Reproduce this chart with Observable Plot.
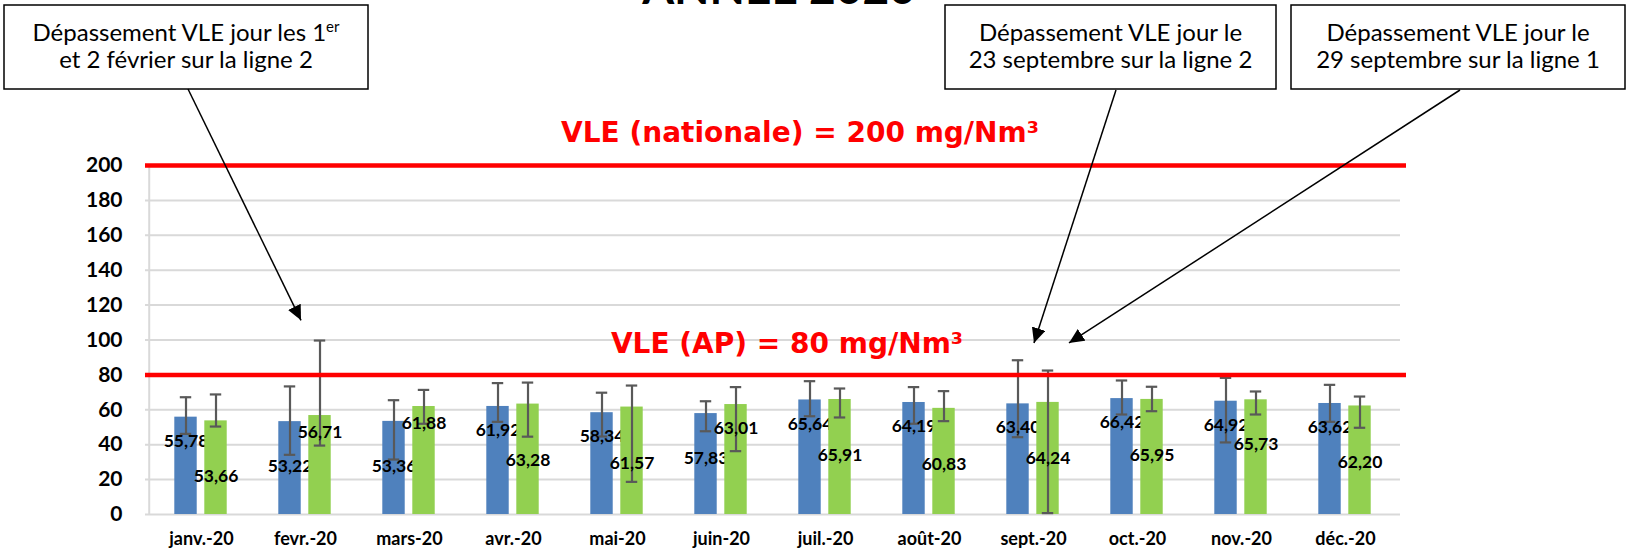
<!DOCTYPE html>
<html>
<head>
<meta charset="utf-8">
<script src="https://cdn.jsdelivr.net/npm/d3@7"></script>
<script src="https://cdn.jsdelivr.net/npm/@observablehq/plot@0.6"></script>
<style>
  html, body { margin: 0; padding: 0; background: #fff; }
  #wrap { position: relative; width: 1629px; height: 557px; overflow: hidden; background: #fff; }
  #wrap svg { position: absolute; left: 0; top: 0; }
  #overlay { pointer-events: none; }
</style>
</head>
<body>
<div id="wrap"></div>
<script>
// ---- Data ----
const months = ["janv.-20","fevr.-20","mars-20","avr.-20","mai-20","juin-20","juil.-20","août-20","sept.-20","oct.-20","nov.-20","déc.-20"];
const ligne1 = [55.78,53.22,53.36,61.92,58.34,57.83,65.64,64.19,63.40,66.42,64.92,63.62];
const ligne2 = [53.66,56.71,61.88,63.28,61.57,63.01,65.91,60.83,64.24,65.95,65.73,62.20];
const ligne1Min = [46.2,34.2,31.5,53.1,44.7,47.7,56.3,52.0,44.3,57.3,41.3,53.1];
const ligne1Max = [67.2,73.4,65.5,75.3,69.8,64.9,76.4,73.0,88.4,76.8,78.3,74.3];
const ligne2Min = [50.4,39.5,52.0,44.6,18.7,36.3,55.6,53.5,0.8,59.2,57.3,49.7];
const ligne2Max = [68.8,99.7,71.4,75.6,73.9,73.0,72.2,70.7,82.5,73.2,70.5,67.6];
// where each data label sits inside its bar: "haut" (top), "A", "B", "C" (lower)
const ligne1Label = ["A","B","B","A","A","B","A","A","A","A","A","A"];
const ligne2Label = ["C","haut","haut","C","C","A","C","C","C","C","B","C"];
const yTicks = [0,20,40,60,80,100,120,140,160,180,200];
const vleNationale = 200;
const vleAP = 80;
const vleTexts = ["VLE (nationale) = 200 mg/Nm³", "VLE (AP) = 80 mg/Nm³"];
const title = "ANNEE 2020";
const callouts = [
  ["Dépassement VLE jour les 1|er", "et 2 février sur la ligne 2"],
  ["Dépassement VLE jour le", "23 septembre sur la ligne 2"],
  ["Dépassement VLE jour le", "29 septembre sur la ligne 1"]
];

// ---- Layout ----
const W = 1629, H = 557, mL = 145, mR = 229, mT = 165, mB = 43;
const bw = (W - mL - mR) / months.length;
const barW = 23;
const off1 = 25.3, off2 = 55.3; // bar start offsets within a month band
const capW = 12;
const dyLevel = {haut: 17, A: 24, B: 45, C: 56};

const rows1 = months.map((m, i) => ({mois: m, valeur: ligne1[i], min: ligne1Min[i], max: ligne1Max[i], place: ligne1Label[i]}));
const rows2 = months.map((m, i) => ({mois: m, valeur: ligne2[i], min: ligne2Min[i], max: ligne2Max[i], place: ligne2Label[i]}));
const fmt = v => v.toFixed(2).replace(".", ",");

function seriesMarks(rows, off, fill) {
  const c = off + barW / 2;
  const dx = c - bw / 2;
  const marks = [
    Plot.barY(rows, {x: "mois", y: "valeur", fill, insetLeft: off, insetRight: bw - off - barW}),
    Plot.ruleX(rows, {x: "mois", y1: "min", y2: "max", dx, stroke: "#595959", strokeWidth: 2.2}),
    Plot.tickY(rows, {x: "mois", y: "min", insetLeft: c - capW / 2, insetRight: bw - c - capW / 2, stroke: "#595959", strokeWidth: 2.2}),
    Plot.tickY(rows, {x: "mois", y: "max", insetLeft: c - capW / 2, insetRight: bw - c - capW / 2, stroke: "#595959", strokeWidth: 2.2})
  ];
  for (const lvl of Object.keys(dyLevel)) {
    marks.push(Plot.text(rows.filter(r => r.place === lvl), {
      x: "mois", y: "valeur", text: d => fmt(d.valeur), dx, dy: dyLevel[lvl],
      fontSize: 17.5, fontWeight: "bold", fill: "#000", fontFamily: "Lato"
    }));
  }
  return marks;
}

const chart = Plot.plot({
  width: W, height: H,
  marginLeft: mL, marginRight: mR, marginTop: mT, marginBottom: mB,
  style: {fontFamily: "Lato", color: "#000", background: "transparent"},
  x: {domain: months, padding: 0, label: null},
  y: {domain: [0, 200], label: null},
  marks: [
    Plot.gridY(yTicks.filter(t => t > 0), {stroke: "#D9D9D9", strokeWidth: 2, strokeOpacity: 1}),
    Plot.ruleX([months[0]], {dx: -bw / 2, stroke: "#D9D9D9", strokeWidth: 2}),
    Plot.ruleY([0], {stroke: "#D9D9D9", strokeWidth: 2}),
    ...seriesMarks(rows1, off1, "#4F81BD"),
    ...seriesMarks(rows2, off2, "#92D050"),
    Plot.ruleY([vleNationale, vleAP], {stroke: "#FF0000", strokeWidth: 4.5, insetRight: -6}),
    Plot.text([vleTexts[0]], {y: () => vleNationale, frameAnchor: "middle", dx: 27, dy: -32, fill: "#FF0000", fontSize: 28, fontWeight: "bold", fontFamily: "DejaVu Sans"}),
    Plot.text([vleTexts[1]], {y: () => vleAP, frameAnchor: "middle", dx: 14, dy: -31, fill: "#FF0000", fontSize: 28, fontWeight: "bold", fontFamily: "DejaVu Sans"}),
    Plot.axisY({ticks: yTicks, tickSize: 0, tickPadding: 23, fontSize: 21, fontWeight: "bold", label: null}),
    Plot.axisX({tickSize: 0, tickPadding: 18, fontSize: 18, fontWeight: "bold", label: null})
  ]
});
chart.style.fontWeight = "normal";
document.getElementById("wrap").appendChild(chart);

// ---- Overlay: title, callout boxes, arrows ----
const xs = chart.scale("x"), ys = chart.scale("y");
const center = m => xs.apply(m) + xs.bandwidth / 2;
const ov = d3.select("#wrap").append("svg").attr("id", "overlay").attr("width", W).attr("height", H);
ov.append("defs").append("marker")
  .attr("id", "head").attr("markerUnits", "userSpaceOnUse")
  .attr("markerWidth", 16).attr("markerHeight", 14)
  .attr("refX", 15).attr("refY", 7).attr("orient", "auto")
  .append("path").attr("d", "M0,0 L15,7 L0,14 Z").attr("fill", "#000");

ov.append("text").attr("x", 779).attr("y", 4).attr("text-anchor", "middle")
  .attr("font-family", "Lato").attr("font-weight", "bold").attr("font-size", 46).text(title);

const boxes = [[4, 368], [945, 1276], [1291, 1625]];
callouts.forEach((lines, i) => {
  const [x0, x1] = boxes[i];
  ov.append("rect").attr("x", x0).attr("y", 5).attr("width", x1 - x0).attr("height", 84)
    .attr("fill", "#fff").attr("stroke", "#000").attr("stroke-width", 1.5);
  lines.forEach((ln, j) => {
    const t = ov.append("text").attr("x", (x0 + x1) / 2).attr("y", 41 + j * 27)
      .attr("text-anchor", "middle").attr("font-family", "Lato").attr("font-size", 24).attr("fill", "#000");
    const parts = ln.split("|");
    t.append("tspan").text(parts[0]);
    if (parts[1]) t.append("tspan").attr("dy", -9).attr("font-size", 15).text(parts[1]);
  });
});

const arrows = [
  [[188, 89], [center("fevr.-20") - 4, ys.apply(111)]],
  [[1116, 90], [center("sept.-20") + 1, ys.apply(98)]],
  [[1460, 90], [center("sept.-20") + 36, ys.apply(98)]]
];
arrows.forEach(([a, b]) => {
  ov.append("line").attr("x1", a[0]).attr("y1", a[1]).attr("x2", b[0]).attr("y2", b[1])
    .attr("stroke", "#000").attr("stroke-width", 1.5).attr("marker-end", "url(#head)");
});
</script>
</body>
</html>
